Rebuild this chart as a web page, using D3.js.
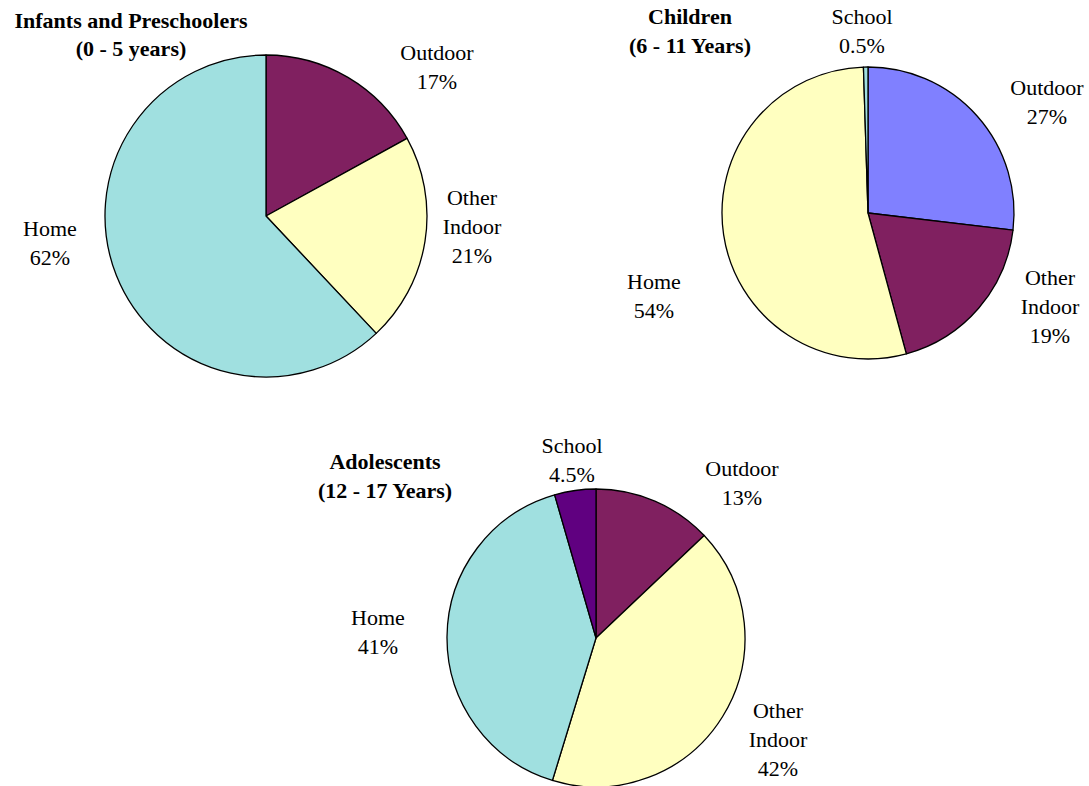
<!DOCTYPE html>
<html>
<head>
<meta charset="utf-8">
<script src="https://cdn.jsdelivr.net/npm/d3@7"></script>
<style>
  html, body { margin: 0; padding: 0; background: #fff; }
  svg text { font-family: "Liberation Serif", "Times New Roman", serif; font-size: 22px; fill: #000; }
  svg text.title { font-weight: bold; }
</style>
</head>
<body>
<svg id="chart" width="1089" height="786"></svg>
<script>
// Time spent by location, per age group (percent)
const infantCategories = ["Outdoor", "Other Indoor", "Home"];
const infantValues = [17, 21, 62];
const infantLabels = ["17%", "21%", "62%"];

const childCategories = ["Outdoor", "Other Indoor", "Home", "School"];
const childValues = [27, 19, 54, 0.5];
const childLabels = ["27%", "19%", "54%", "0.5%"];

const teenCategories = ["Outdoor", "Other Indoor", "Home", "School"];
const teenValues = [13, 42, 41, 4.5];
const teenLabels = ["13%", "42%", "41%", "4.5%"];

// Slice fill per location, per chart
const infantColors = ["#802060", "#FFFFC0", "#A0E0E0"];
const childColors = ["#8080FF", "#802060", "#FFFFC0", "#A0E0E0"];
const teenColors = ["#802060", "#FFFFC0", "#A0E0E0", "#600080"];

// Layout: pie centre/radius, title lines and label anchors (cap-centre y per line)
const charts = [
  {
    categories: infantCategories, values: infantValues, labels: infantLabels, colors: infantColors,
    cx: 266, cy: 216, r: 161,
    title: { x: 131, lines: ["Infants and Preschoolers", "(0 - 5 years)"], y: [20, 48] },
    labelPos: [{ x: 437, y: 52 }, { x: 472, y: 197 }, { x: 50, y: 228 }]
  },
  {
    categories: childCategories, values: childValues, labels: childLabels, colors: childColors,
    cx: 868, cy: 213, r: 146,
    title: { x: 690, lines: ["Children", "(6 - 11 Years)"], y: [16, 45] },
    labelPos: [{ x: 1047, y: 87 }, { x: 1050, y: 277 }, { x: 654, y: 281 }, { x: 862, y: 16 }]
  },
  {
    categories: teenCategories, values: teenValues, labels: teenLabels, colors: teenColors,
    cx: 596, cy: 638, r: 149,
    title: { x: 385, lines: ["Adolescents", "(12 - 17 Years)"], y: [461, 490] },
    labelPos: [{ x: 742, y: 468 }, { x: 778, y: 710 }, { x: 378, y: 617 }, { x: 572, y: 445 }]
  }
];

const svg = d3.select("#chart");
const lineStep = 29;
const capHalf = 7.5;

const pie = d3.pie().sort(null).value(d => d);

charts.forEach(c => {
  const g = svg.append("g").attr("transform", `translate(${c.cx},${c.cy})`);
  const arc = d3.arc().innerRadius(0).outerRadius(c.r);
  const color = d3.scaleOrdinal().domain(c.categories).range(c.colors);

  g.selectAll("path")
    .data(pie(c.values))
    .join("path")
    .attr("d", arc)
    .attr("fill", (d, i) => color(c.categories[i]))
    .attr("stroke", "#000")
    .attr("stroke-width", 1.3)
    .attr("stroke-linejoin", "round");

  // Title
  c.title.lines.forEach((t, i) => {
    svg.append("text")
      .attr("class", "title")
      .attr("x", c.title.x)
      .attr("y", c.title.y[i] + capHalf)
      .attr("text-anchor", "middle")
      .text(t);
  });

  // Category labels with percentage
  c.categories.forEach((cat, i) => {
    const lines = cat.split(" ").concat([c.labels[i]]);
    const p = c.labelPos[i];
    lines.forEach((ln, j) => {
      svg.append("text")
        .attr("x", p.x)
        .attr("y", p.y + j * lineStep + capHalf)
        .attr("text-anchor", "middle")
        .text(ln);
    });
  });
});
</script>
</body>
</html>
